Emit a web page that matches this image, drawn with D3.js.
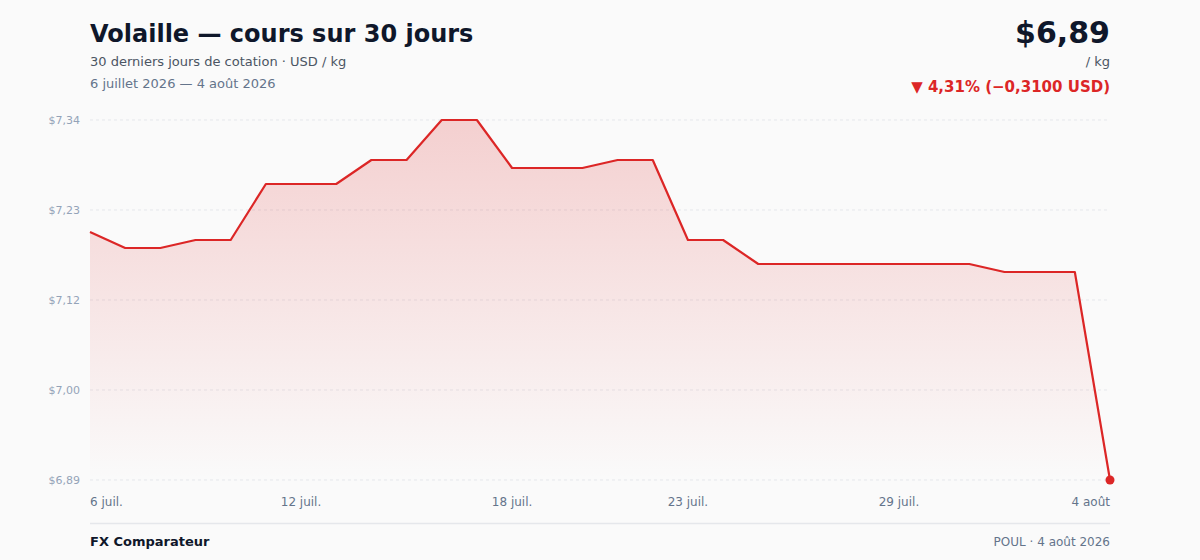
<!DOCTYPE html>
<html><head><meta charset="utf-8">
<script src="https://cdn.jsdelivr.net/npm/d3@7"></script>
<style>
html,body{margin:0;padding:0;background:#fafafa;}
svg{display:block;font-family:"DejaVu Sans",sans-serif;}
</style></head>
<body>
<svg id="chart" width="1200" height="560"></svg>
<script>
const dayLabels = ["6 juil.","7 juil.","8 juil.","9 juil.","10 juil.","11 juil.","12 juil.","13 juil.","14 juil.","15 juil.","16 juil.","17 juil.","18 juil.","19 juil.","20 juil.","21 juil.","22 juil.","23 juil.","24 juil.","25 juil.","26 juil.","27 juil.","28 juil.","29 juil.","30 juil.","31 juil.","1 août","2 août","3 août","4 août"];
const prices = [7.20,7.18,7.18,7.19,7.19,7.26,7.26,7.26,7.29,7.29,7.34,7.34,7.28,7.28,7.28,7.29,7.29,7.19,7.19,7.16,7.16,7.16,7.16,7.16,7.16,7.16,7.15,7.15,7.15,6.89];
const tickIndices = [0,6,12,17,23,29];
const yTickValues = [6.89,7.0025,7.115,7.2275,7.34];

(function(){
const svg = d3.select("#chart");
const mLeft = 90, mRight = 1110, mTop = 120, mBottom = 480;
const red = "#dc2626";
const fmt = v => v.toFixed(2).replace(".", ",");

const x = d3.scaleLinear().domain([0, prices.length - 1]).range([mLeft, mRight]);
const y = d3.scaleLinear().domain([d3.min(prices), d3.max(prices)]).range([mBottom, mTop]);

const defs = svg.append("defs");
const g = defs.append("linearGradient").attr("id","areaGrad").attr("x1",0).attr("y1",0).attr("x2",0).attr("y2",1);
g.append("stop").attr("offset","0%").attr("stop-color",red).attr("stop-opacity",0.2);
g.append("stop").attr("offset","100%").attr("stop-color",red).attr("stop-opacity",0.0);

svg.append("g").selectAll("line").data(yTickValues).join("line")
  .attr("x1", mLeft).attr("x2", mRight)
  .attr("y1", d => y(d)).attr("y2", d => y(d))
  .attr("stroke", "#e5e7eb").attr("stroke-width", 1).attr("stroke-dasharray", "3,3");

svg.append("g").selectAll("text").data(yTickValues).join("text")
  .attr("x", 80).attr("y", d => y(d) + 4)
  .attr("text-anchor", "end").attr("font-size", 11).attr("fill", "#94a3b8")
  .text(d => "$" + fmt(d));

const area = d3.area().x((d,i) => x(i)).y0(mBottom).y1(d => y(d));
svg.append("path").datum(prices).attr("d", area).attr("fill", "url(#areaGrad)");

const line = d3.line().x((d,i) => x(i)).y(d => y(d));
svg.append("path").datum(prices).attr("d", line)
  .attr("fill","none").attr("stroke", red).attr("stroke-width", 2.2).attr("stroke-linejoin","round");

const li = prices.length - 1;
svg.append("circle").attr("cx", x(li)).attr("cy", y(prices[li])).attr("r", 4.5).attr("fill", red);

svg.append("g").selectAll("text").data(tickIndices).join("text")
  .attr("x", d => x(d)).attr("y", 506)
  .attr("text-anchor", (d,i) => i === 0 ? "start" : (i === tickIndices.length - 1 ? "end" : "middle"))
  .attr("font-size", 12).attr("fill", "#64748b")
  .text(d => dayLabels[d]);

svg.append("text").attr("x", mLeft).attr("y", 42).attr("font-size", 24).attr("font-weight", "bold").attr("fill", "#0f172a")
  .text("Volaille — cours sur 30 jours");
svg.append("text").attr("x", mLeft).attr("y", 66).attr("font-size", 13).attr("fill", "#4b5563")
  .text("30 derniers jours de cotation · USD / kg");
svg.append("text").attr("x", mLeft).attr("y", 88).attr("font-size", 13).attr("fill", "#64748b")
  .text("6 juillet 2026 — 4 août 2026");

const last = prices[li], first = prices[0];
const diff = last - first, pct = diff / first * 100;
svg.append("text").attr("x", mRight).attr("y", 43).attr("text-anchor","end").attr("font-size", 30).attr("font-weight","bold").attr("fill","#0f172a")
  .text("$" + fmt(last));
svg.append("text").attr("x", mRight).attr("y", 66).attr("text-anchor","end").attr("font-size", 13).attr("fill","#4b5563")
  .text("/ kg");
svg.append("text").attr("x", mRight).attr("y", 92).attr("text-anchor","end").attr("font-size", 15).attr("font-weight","bold").attr("fill", red)
  .text("▼ " + Math.abs(pct).toFixed(2).replace(".", ",") + "% (−" + Math.abs(diff).toFixed(4).replace(".", ",") + " USD)");

svg.append("line").attr("x1", mLeft).attr("x2", mRight).attr("y1", 523.5).attr("y2", 523.5).attr("stroke", "#e5e7eb").attr("stroke-width", 1.5);
svg.append("text").attr("x", mLeft).attr("y", 546).attr("font-size", 13).attr("font-weight","bold").attr("fill","#0f172a")
  .text("FX Comparateur");
svg.append("text").attr("x", mRight).attr("y", 546).attr("text-anchor","end").attr("font-size", 12).attr("fill","#64748b")
  .text("POUL · 4 août 2026");
})();
</script>
</body></html>
